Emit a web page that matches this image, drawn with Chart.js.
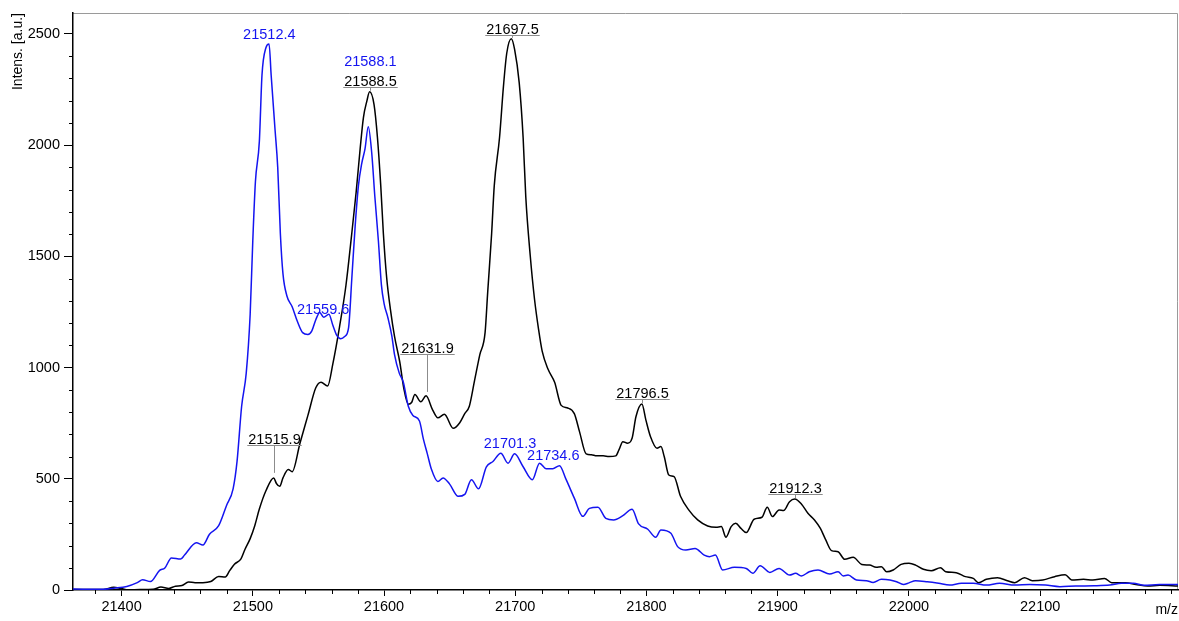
<!DOCTYPE html>
<html>
<head>
<meta charset="utf-8">
<script src="https://cdn.jsdelivr.net/npm/chart.js@4.4.1/dist/chart.umd.min.js"></script>
<style>
  html, body { margin: 0; padding: 0; background: #fff; }
  canvas { display: block; }
</style>
</head>
<body>
<canvas id="spectrum" width="1179" height="621"></canvas>
<script>
// blue trace (m/z, intensity)
const blueMz = [21363, 21386, 21394, 21404, 21412, 21416, 21422, 21429, 21433, 21438, 21445, 21448, 21457, 21462, 21467, 21474, 21480, 21485, 21488, 21491.5, 21495, 21498, 21500, 21502, 21505, 21507, 21510, 21512.4, 21514, 21517, 21519, 21521, 21523, 21526, 21530, 21534, 21538, 21542, 21545, 21548, 21551, 21554, 21558, 21561, 21564, 21567, 21570, 21573, 21575.5, 21578, 21580.5, 21583, 21585.5, 21588, 21590.6, 21593, 21595.7, 21598, 21600, 21603, 21606, 21608, 21611.6, 21614.7, 21618.5, 21622, 21627, 21630, 21633, 21636, 21641, 21645, 21650, 21656.5, 21661.5, 21666.6, 21672, 21678, 21683, 21689, 21694.5, 21699.5, 21706, 21713, 21718.5, 21723.6, 21728.6, 21733.7, 21738.8, 21745, 21751.5, 21756.5, 21763, 21769, 21775, 21781.7, 21789, 21794, 21801, 21807, 21811, 21818.6, 21823.7, 21830, 21837, 21844, 21848, 21852.5, 21858, 21867, 21876, 21881, 21886.6, 21894, 21901, 21909, 21913.6, 21918, 21924, 21930.7, 21939.6, 21946, 21950, 21953.6, 21960, 21967.6, 21972.7, 21979, 21985.5, 21990.6, 21995.7, 22000, 22005, 22014, 22022.6, 22031, 22040, 22049, 22059, 22069, 22080.6, 22092, 22104, 22115, 22127, 22141, 22153, 22162, 22171, 22179, 22191, 22205];
const blueInt = [4, 3, 8, 16, 33, 46, 38, 88, 99, 144, 139, 157, 212, 202, 251, 289, 380, 455, 578, 826, 975, 1240, 1570, 1835, 2017, 2314, 2438, 2455, 2314, 2066, 1900, 1603, 1421, 1322, 1273, 1207, 1157, 1149, 1165, 1215, 1248, 1226, 1240, 1190, 1145, 1130, 1140, 1180, 1405, 1636, 1818, 1917, 1983, 2083, 1967, 1769, 1570, 1372, 1289, 1223, 1140, 1058, 975, 934, 826, 785, 760, 678, 612, 545, 488, 504, 476, 421, 430, 496, 455, 554, 578, 615, 570, 612, 554, 496, 570, 545, 545, 559, 496, 413, 331, 367, 372, 322, 315, 333, 363, 297, 273, 237, 270, 255, 195, 180, 187, 157, 150, 157, 90, 102, 97, 75, 109, 79, 97, 67, 75, 63, 82, 90, 72, 82, 63, 67, 45, 42, 34, 48, 45, 37, 25, 32, 42, 37, 30, 22, 30, 30, 22, 30, 22, 25, 22, 15, 18, 19, 22, 30, 30, 21, 25, 25];

// black trace (m/z, intensity)
const blackMz = [21363, 21386, 21394, 21399, 21405, 21414, 21424, 21430, 21436, 21441, 21446, 21451, 21456, 21462, 21468, 21474, 21479, 21482.5, 21486, 21491, 21494, 21498, 21501.5, 21505, 21510, 21515.9, 21518, 21520.5, 21523, 21527, 21530, 21536, 21542, 21548, 21552, 21557, 21561, 21566, 21571, 21575, 21578.7, 21581.8, 21584.3, 21587, 21589, 21592.4, 21595, 21597.5, 21599.5, 21602, 21605, 21608, 21612, 21615, 21618.5, 21621, 21623.5, 21628, 21632, 21637, 21641, 21646, 21652.7, 21657.7, 21661.5, 21665, 21669, 21673, 21677, 21679, 21682, 21684, 21688, 21691, 21693.5, 21697, 21699.5, 21703, 21706, 21708, 21711.4, 21714.7, 21717.7, 21720.5, 21725, 21730, 21735, 21740, 21745, 21749, 21754, 21758, 21762, 21767, 21771.5, 21776.6, 21779, 21782, 21785.5, 21789, 21792, 21796.5, 21799.5, 21803, 21808, 21811, 21813.5, 21817, 21821, 21826, 21832.6, 21839, 21846.6, 21853, 21857, 21860.6, 21864.5, 21868, 21872, 21876, 21882, 21888, 21892, 21896, 21901, 21904.5, 21909, 21913, 21918, 21923, 21928, 21932.5, 21936.6, 21941, 21946, 21951, 21957.5, 21964, 21970, 21975, 21979, 21983, 21988, 21994, 22000, 22005, 22011, 22017, 22024, 22028, 22036, 22043, 22049, 22053, 22059, 22067.5, 22075, 22080.6, 22088, 22094, 22102, 22111, 22119, 22124, 22133, 22140, 22149, 22154.5, 22165, 22173, 22182, 22191, 22205];
const blackInt = [2, 2, 12, 8, 1, 2, 3, 13, 7, 17, 20, 36, 33, 33, 38, 61, 58, 88, 116, 140, 182, 231, 289, 364, 446, 504, 479, 466, 504, 542, 532, 661, 785, 909, 934, 917, 1017, 1180, 1370, 1580, 1785, 1983, 2124, 2200, 2240, 2182, 2033, 1818, 1603, 1405, 1256, 1140, 1025, 909, 835, 843, 879, 846, 873, 810, 774, 790, 727, 752, 793, 826, 942, 1058, 1157, 1339, 1603, 1818, 2033, 2264, 2413, 2478, 2430, 2281, 2033, 1769, 1504, 1306, 1174, 1074, 992, 934, 830, 818, 793, 711, 612, 608, 603, 603, 600, 603, 630, 667, 660, 682, 780, 836, 765, 690, 637, 645, 600, 517, 510, 420, 357, 315, 288, 282, 285, 237, 285, 300, 277, 258, 318, 327, 372, 330, 360, 357, 397, 409, 387, 345, 315, 277, 225, 177, 172, 138, 147, 115, 112, 102, 105, 82, 90, 115, 120, 112, 93, 87, 100, 82, 78, 60, 52, 33, 48, 55, 42, 33, 55, 42, 45, 60, 69, 45, 48, 45, 52, 33, 33, 25, 18, 21, 18];

// peak labels, in data units (m/z of label centre, intensity of label base)
const blueLabels = ['21512.4', '21559.6', '21588.1', '21701.3', '21734.6'];
const blueLabelMz = [21512.6, 21553.6, 21589.6, 21696, 21729];
const blueLabelAt = [2478, 1241, 2356, 638, 585];

const blackLabels = ['21588.5', '21697.5', '21631.9', '21515.9', '21796.5', '21912.3'];
const blackLabelMz = [21589, 21697.6, 21632.6, 21515.8, 21796.4, 21913];
const blackLabelAt = [2262, 2497, 1061, 652, 859, 432];
const blackLabelTip = [2240, 2478, 886, 522, 836, 409];

// axes
const xMin = 21363, xMax = 22205;
const yMin = 0, yMax = 2594;
const xTickLabels = [21400, 21500, 21600, 21700, 21800, 21900, 22000, 22100];
const yTickLabels = [0, 500, 1000, 1500, 2000, 2500];
const xMinorStep = 20, yMinorStep = 100;

const FONT = "'Liberation Sans', Arial, sans-serif";
const BLUE = '#1414f0';

const toPoints = (xs, ys) => xs.map((x, i) => ({ x: x, y: ys[i] }));

// every tick (major + minor) inside the range
const tickValues = (lo, hi, step) => {
    const out = [];
    for (let v = Math.ceil(lo / step) * step; v <= hi; v += step) out.push({ value: v });
    return out;
};

// gray frame on top/right
const framePlugin = {
    id: 'frame',
    beforeDraw(chart) {
        const { ctx, chartArea: a } = chart;
        ctx.save();
        ctx.strokeStyle = '#9a9a9a';
        ctx.lineWidth = 1;
        ctx.beginPath();
        ctx.moveTo(a.left, a.top + 0.5);
        ctx.lineTo(a.right - 0.5, a.top + 0.5);
        ctx.lineTo(a.right - 0.5, a.bottom);
        ctx.stroke();
        ctx.restore();
    }
};

// short minor ticks
const minorTicks = {
    id: 'minorTicks',
    afterDraw(chart) {
        const { ctx, chartArea: a } = chart;
        const xs = chart.scales.x, ys = chart.scales.y;
        ctx.save();
        ctx.strokeStyle = '#000';
        ctx.lineWidth = 1;
        ctx.beginPath();
        xs.ticks.forEach(t => {
            if (!xTickLabels.includes(t.value)) {
                const px = Math.round(xs.getPixelForValue(t.value)) + 0.5;
                ctx.moveTo(px, a.bottom);
                ctx.lineTo(px, a.bottom + 4);
            }
        });
        ys.ticks.forEach(t => {
            if (!yTickLabels.includes(t.value)) {
                const py = Math.round(ys.getPixelForValue(t.value)) + 0.5;
                ctx.moveTo(a.left, py);
                ctx.lineTo(a.left - 4, py);
            }
        });
        ctx.stroke();
        ctx.restore();
    }
};

// peak annotations
const peakLabels = {
    id: 'peakLabels',
    afterDatasetsDraw(chart) {
        const { ctx } = chart;
        const xs = chart.scales.x, ys = chart.scales.y;
        ctx.save();
        ctx.font = '14.5px ' + FONT;
        ctx.textAlign = 'center';
        ctx.textBaseline = 'alphabetic';

        ctx.fillStyle = BLUE;
        blueLabels.forEach((txt, i) => {
            ctx.fillText(txt, xs.getPixelForValue(blueLabelMz[i]), ys.getPixelForValue(blueLabelAt[i]));
        });

        blackLabels.forEach((txt, i) => {
            const px = Math.round(xs.getPixelForValue(blackLabelMz[i])) + 0.5;
            const base = Math.round(ys.getPixelForValue(blackLabelAt[i])) + 0.5;
            const tip = ys.getPixelForValue(blackLabelTip[i]);
            const w = ctx.measureText(txt).width;
            ctx.fillStyle = '#000';
            ctx.fillText(txt, px, base - 2);
            ctx.strokeStyle = '#8c8c8c';
            ctx.lineWidth = 1;
            ctx.beginPath();
            ctx.moveTo(px - w / 2 - 1, base);
            ctx.lineTo(px + w / 2 + 1, base);
            ctx.moveTo(px, base);
            ctx.lineTo(px, tip - 1);
            ctx.stroke();
        });
        ctx.restore();
    }
};

const ctx = document.getElementById('spectrum').getContext('2d');
new Chart(ctx, {
    type: 'line',
    data: {
        datasets: [
            {
                label: 'blue',
                data: toPoints(blueMz, blueInt),
                borderColor: BLUE,
                borderWidth: 1.5,
                pointRadius: 0,
                fill: false,
                cubicInterpolationMode: 'monotone'
            },
            {
                label: 'black',
                data: toPoints(blackMz, blackInt),
                borderColor: '#000',
                borderWidth: 1.5,
                pointRadius: 0,
                fill: false,
                cubicInterpolationMode: 'monotone'
            }
        ]
    },
    options: {
        responsive: false,
        animation: false,
        devicePixelRatio: 1,
        layout: { padding: { top: 13, right: 1, left: 0, bottom: 0 } },
        plugins: {
            legend: { display: false },
            tooltip: { enabled: false }
        },
        scales: {
            x: {
                type: 'linear',
                min: xMin,
                max: xMax,
                afterBuildTicks: s => { s.ticks = tickValues(xMin, xMax, xMinorStep); },
                afterFit: s => { s.height = 31; s.paddingRight = 0; s.paddingLeft = 0; },
                border: { color: '#000', width: 1.5 },
                grid: {
                    drawOnChartArea: false,
                    tickLength: 6,
                    tickColor: c => (c.tick && xTickLabels.includes(c.tick.value)) ? '#000' : 'rgba(0,0,0,0)'
                },
                ticks: {
                    autoSkip: false,
                    maxRotation: 0,
                    padding: 2,
                    color: '#000',
                    font: { family: FONT, size: 14.5 },
                    callback: v => (xTickLabels.includes(v) ? String(v) : '')
                },
                title: {
                    display: true,
                    text: 'm/z',
                    align: 'end',
                    color: '#000',
                    padding: { top: 0, bottom: 2 },
                    font: { family: FONT, size: 14 }
                }
            },
            y: {
                min: yMin,
                max: yMax,
                afterBuildTicks: s => { s.ticks = tickValues(yMin, yMax, yMinorStep); },
                afterFit: s => { s.width = 73; },
                border: { color: '#000', width: 1.5 },
                grid: {
                    drawOnChartArea: false,
                    tickLength: 9,
                    tickColor: c => (c.tick && yTickLabels.includes(c.tick.value)) ? '#000' : 'rgba(0,0,0,0)'
                },
                ticks: {
                    autoSkip: false,
                    padding: 4,
                    color: '#000',
                    font: { family: FONT, size: 14.5 },
                    callback: v => (yTickLabels.includes(v) ? String(v) : '')
                },
                title: {
                    display: true,
                    text: 'Intens. [a.u.]',
                    align: 'end',
                    color: '#000',
                    padding: { top: 10, bottom: 0 },
                    font: { family: FONT, size: 14 }
                }
            }
        }
    },
    plugins: [framePlugin, minorTicks, peakLabels]
});
</script>
</body>
</html>
